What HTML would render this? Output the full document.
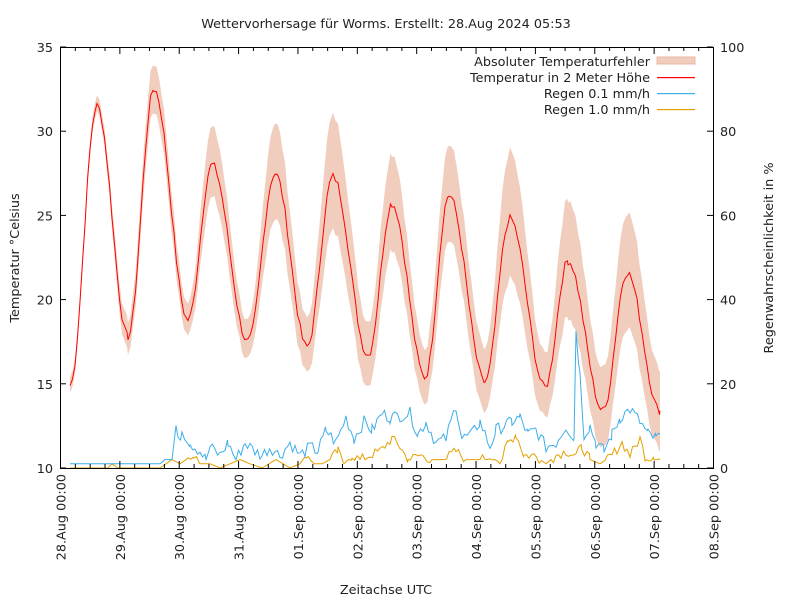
<!DOCTYPE html>
<html><head><meta charset="utf-8"><style>
body{margin:0;background:#fff}
svg text{font-family:"DejaVu Sans","Liberation Sans",sans-serif;font-size:12.8px;fill:#222}
</style></head><body>
<svg id="s" width="800" height="600" xmlns="http://www.w3.org/2000/svg">
<rect width="800" height="600" fill="#fff"/>
<text x="386" y="28" text-anchor="middle">Wettervorhersage für Worms. Erstellt: 28.Aug 2024 05:53</text>
<g id="plot"></g>
<rect x="60.5" y="47.5" width="653" height="421" fill="none" stroke="#000" stroke-width="1"/>
<g id="ax"></g>
<text x="386" y="594" text-anchor="middle">Zeitachse UTC</text>
<text transform="translate(19,258) rotate(-90)" text-anchor="middle">Temperatur °Celsius</text>
<text transform="translate(773,258) rotate(-90)" text-anchor="middle">Regenwahrscheinlichkeit in %</text>
<g>
<text x="650" y="66" text-anchor="end">Absoluter Temperaturfehler</text>
<rect x="657" y="57" width="38" height="7" fill="#f0cdbd" stroke="#e8b9a5"/>
<text x="650" y="82" text-anchor="end">Temperatur in 2 Meter Höhe</text>
<rect x="657" y="77" width="38" height="1.2" fill="#ff0000"/>
<text x="650" y="98" text-anchor="end">Regen 0.1 mm/h</text>
<rect x="657" y="93" width="38" height="1.2" fill="#3daee9"/>
<text x="650" y="114" text-anchor="end">Regen 1.0 mm/h</text>
<rect x="657" y="109" width="38" height="1.2" fill="#e5a000"/>
</g>
</svg>
<script>
var NS="http://www.w3.org/2000/svg";
function el(p,n,a,t){var e=document.createElementNS(NS,n);for(var k in a)e.setAttribute(k,a[k]);if(t!=null)e.textContent=t;p.appendChild(e);return e;}
var ax=document.getElementById('ax'),pl=document.getElementById('plot');
function yT(t){return 468-(t-10)*16.84}
function yP(p){return 468-p*4.21}
for(var t=10;t<=35;t+=5){var y=yT(t);el(ax,'line',{x1:60,y1:y,x2:66,y2:y,stroke:'#000'});el(ax,'text',{x:53,y:y+5,'text-anchor':'end'},t);}
for(var p=0;p<=100;p+=20){var y=yP(p);el(ax,'line',{x1:707,y1:y,x2:713,y2:y,stroke:'#000'});el(ax,'text',{x:720,y:y+5},p);}
var days=['28.Aug','29.Aug','30.Aug','31.Aug','01.Sep','02.Sep','03.Sep','04.Sep','05.Sep','06.Sep','07.Sep','08.Sep'];
var dw=653/11;
for(var i=0;i<=44;i++){var x=60.5+i*dw/4;var L=(i%4==0)?7:4;
el(ax,'line',{x1:x,y1:468,x2:x,y2:468-L,stroke:'#000'});el(ax,'line',{x1:x,y1:47,x2:x,y2:47+L,stroke:'#000'});}
for(var i=0;i<12;i++){var x=60.5+i*dw;el(ax,'text',{transform:'translate('+(x+5)+',474) rotate(-90)','text-anchor':'end'},days[i]+' 00:00');}
var K=[[70,14.9,0.5],[97,31.5,0.5],[128,17.8,1],[154,32.5,1.5],[188,18.8,1],[212,28,2.2],[248,17.5,1.2],[275,27.5,3],[307,17.2,1.7],[333,27.3,3.6],[368,16.7,2],[392,25.7,3],[425,15.4,1.7],[449,26.2,3],[485,15.1,2],[510,24.8,4],[545,14.8,2],[568,22.3,3.7],[603,13.4,2.5],[627,21.6,3.6],[660,13.4,2.5]];
var seed=7;function rnd(){seed=(seed*9301+49297)%233280;return seed/233280;}
var pts=[];
for(var i=0;i<K.length-1;i++){var a=K[i],b=K[i+1];for(var x=a[0];x<b[0];x+=2.5){var f=(x-a[0])/(b[0]-a[0]);var c=(1-Math.cos(Math.PI*f))/2;
pts.push([x,a[1]+(b[1]-a[1])*c+(rnd()-0.5)*0.5,a[2]+(b[2]-a[2])*c]);}}
pts.push([660,13.4,2.5]);
var up=pts.map(function(q){return q[0]+','+yT(q[1]+q[2])}),lo=pts.map(function(q){return q[0]+','+yT(q[1]-q[2]*0.9)}).reverse();
el(pl,'polygon',{points:up.concat(lo).join(' '),fill:'#f0cdbd'});
var B=[[70,1],[160,1],[165,2],[172,2],[176,10],[178,6],[182,9],[190,6],[200,4],[206,2],[210,5],[220,3],[228,6],[236,2],[245,6],[255,4],[262,3],[270,5],[280,3],[290,6],[300,3],[310,5],[318,4],[326,9],[336,6],[346,12],[354,7],[364,11],[372,9],[382,13],[390,12],[410,13],[418,8],[426,11],[436,6],[446,7],[456,15],[462,7],[472,8],[480,11],[490,5],[496,9],[504,10],[512,11],[520,12],[528,8],[536,9],[546,5],[556,6],[566,10],[574,7],[576,33],[580,22],[584,8],[590,10],[596,6],[604,4],[612,8],[620,12],[630,14],[640,11],[648,8],[656,7],[660,8]];
var O=[[70,0],[108,0],[112,1],[118,0],[160,0],[166,1],[172,2],[180,1],[186,2],[194,3],[200,1],[210,1],[220,0],[240,2],[250,1],[262,0],[276,2],[290,0],[300,1],[306,3],[314,1],[322,1],[330,2],[338,4],[344,1],[352,3],[360,2],[370,3],[380,4],[392,7],[400,5],[408,2],[420,3],[432,2],[444,2],[456,4],[466,2],[480,2],[492,3],[500,1],[508,6],[516,8],[524,3],[534,3],[546,1],[556,3],[566,4],[576,3],[582,5],[590,2],[600,1],[612,3],[622,6],[630,3],[640,7],[646,2],[654,3],[660,2]];
function rough(A,amp){var out=[];for(var i=0;i<A.length-1;i++){var a=A[i],b=A[i+1];for(var x=a[0];x<b[0];x+=2.5){var f=(x-a[0])/(b[0]-a[0]);var v=a[1]+(b[1]-a[1])*f;if(amp&&v>2)v+=(rnd()-0.5)*amp*2;out.push(x+','+yP(Math.max(0,v)));}}out.push(A[A.length-1][0]+','+yP(A[A.length-1][1]));return out.join(' ');}
el(pl,'polyline',{points:rough(O,1.2),fill:'none',stroke:'#e5a000','stroke-width':1});
el(pl,'polyline',{points:rough(B,1.5),fill:'none',stroke:'#3daee9','stroke-width':1});
el(pl,'polyline',{points:pts.map(function(q){return q[0]+','+yT(q[1])}).join(' '),fill:'none',stroke:'#f00','stroke-width':1});
</script>
</body></html>
